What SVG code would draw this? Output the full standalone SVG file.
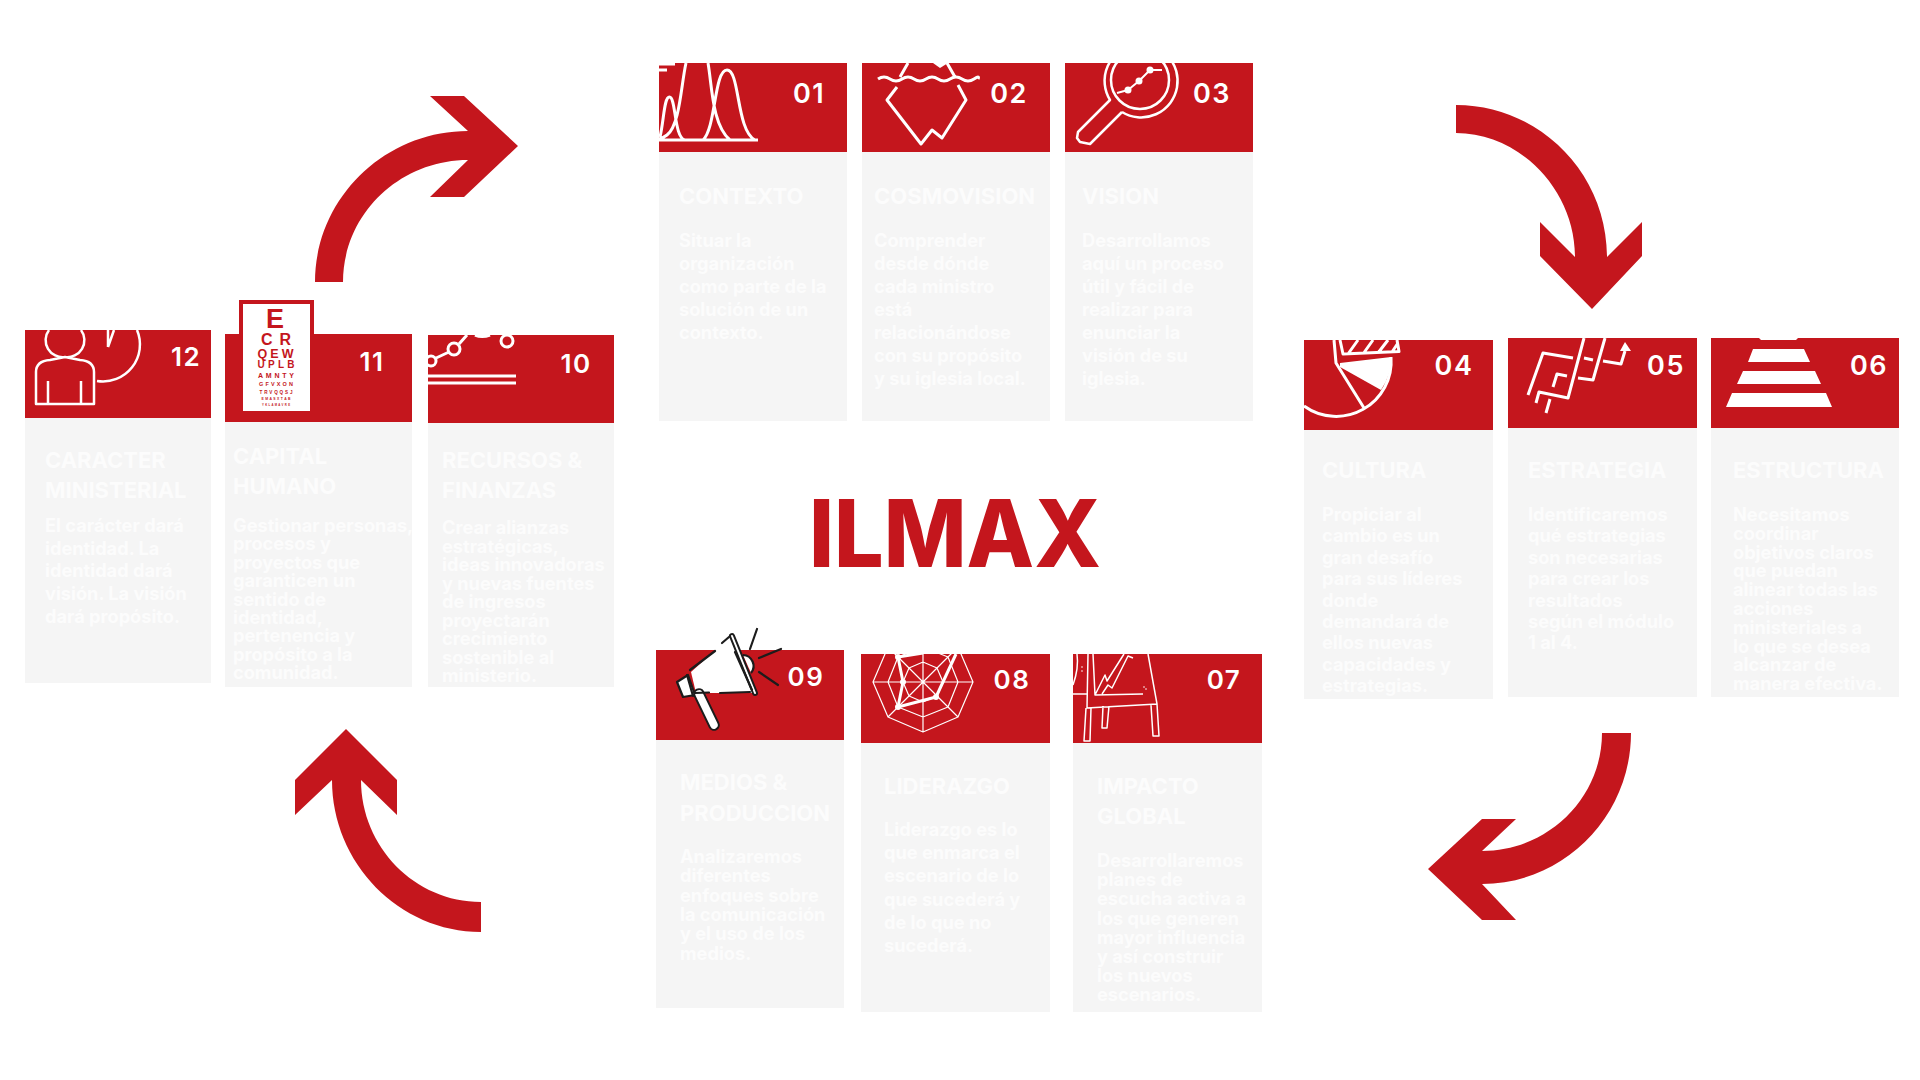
<svg xmlns="http://www.w3.org/2000/svg" width="1920" height="1080" viewBox="0 0 1920 1080">
<style>
text{font-family:"Inter","Noto Sans","Liberation Sans",sans-serif}
.bg{fill:#ffffff}
.h{fill:#c4161d}
.c{fill:#f5f5f5}
.n{fill:#ffffff;font-weight:600;font-size:27px;letter-spacing:1.5px;text-anchor:middle}
.t{fill:#fcfcfc;font-weight:700;font-size:22px}
.b{fill:#fcfcfc;font-weight:700;font-size:18.2px}
.i{fill:none;stroke:#ffffff;stroke-width:3;stroke-linejoin:round;stroke-linecap:butt}
.th{stroke-width:1.5}
.w{fill:#ffffff;stroke:none}
.k{fill:none;stroke:#1c1c1c;stroke-width:2.2;stroke-linecap:round;stroke-linejoin:round}
.a{fill:#c4161d}
.e{fill:#c4161d;font-family:"Liberation Sans",sans-serif;font-weight:700;text-anchor:middle}
.title{fill:#c4161d;font-weight:800;font-size:93px;text-anchor:middle}
</style>
<rect class="bg" width="1920" height="1080"/>

<g id="connectors">
<path class="a" d="M315 282C315 199 384 131 468 131L430 96H464L518 146L464 197H430L468 160C399 160 343 215 343 282Z"/>
<path class="a" d="M1456 105C1539 105 1607 173 1607 257L1642 222V256L1592 309L1540 256V222L1575 257C1575 189 1519 133 1456 133Z"/>
<path class="a" d="M1631 733C1631 816 1564 884 1482 884L1516 920H1482L1428 869L1482 819H1516L1482 851C1548 851 1602 798 1602 733Z"/>
<path class="a" d="M481 932C399 932 332 863 332 780L295 815V780L346 729L397 780V815L361 780C361 847 415 902 481 902Z"/>
</g>

<g id="title"><text class="title" x="955" y="567" textLength="292" lengthAdjust="spacingAndGlyphs">ILMAX</text></g>

<g id="card-01">
<rect class="c" x="659" y="152" width="188" height="269"/><rect class="h" x="659" y="63" width="188" height="89"/>
<path class="i" d="M659 140H758M660 137C664 120 664 97 669.5 97C676 97 674 138 685 140M686 63C681 85 680 125 667 135Q663 138 659 139M708 63C712 85 712 125 730 140M703 140C716 128 714 70 727 70C740 70 736 130 755 140M659 70H667M659 64H675"/>
<text class="n" x="809" y="103">01</text>
<text class="t" x="679" y="204">CONTEXTO</text>
<text class="b" x="679" y="247"><tspan x="679">Situar la</tspan><tspan x="679" dy="23">organización</tspan><tspan x="679" dy="23">como parte de la</tspan><tspan x="679" dy="23">solución de un</tspan><tspan x="679" dy="23">contexto.</tspan></text>
</g>

<g id="card-02">
<rect class="c" x="862" y="152" width="188" height="269"/><rect class="h" x="862" y="63" width="188" height="89"/>
<path class="i" d="M878 79q6 -4 12 0t12 0t12 0t12 0t12 0t12 0t12 0t12 0t4 0M908 63L900 77M947 63L955 77M897 87L887 100L921 144L932 130L942 138L966 100L958 85"/>
<path class="w" d="M933 63L940 68L948 63Z"/>
<text class="n" x="1009" y="103">02</text>
<text class="t" x="874" y="204">COSMOVISION</text>
<text class="b" x="874" y="247"><tspan x="874">Comprender</tspan><tspan x="874" dy="23">desde dónde</tspan><tspan x="874" dy="23">cada ministro</tspan><tspan x="874" dy="23">está</tspan><tspan x="874" dy="23">relacionándose</tspan><tspan x="874" dy="23">con su propósito</tspan><tspan x="874" dy="23">y su iglesia local.</tspan></text>
</g>

<g id="card-03">
<rect class="c" x="1065" y="152" width="188" height="269"/><rect class="h" x="1065" y="63" width="188" height="89"/>
<path class="i" style="stroke-width:2.5" d="M1122 112A36.5 36.5 0 1 0 1110 100L1078 132L1077 138L1080 142L1090 144L1122 112"/>
<circle class="i" style="stroke-width:2.5" cx="1140" cy="80" r="29"/>
<path class="i" style="stroke-width:2" d="M1117 93L1128 90L1139 81L1150 70L1162 70"/>
<circle class="w" cx="1128" cy="90" r="3.5"/><circle class="w" cx="1139" cy="81" r="3.5"/><circle class="w" cx="1150" cy="70" r="3.5"/>
<text class="n" x="1212" y="103">03</text>
<text class="t" x="1082" y="204">VISION</text>
<text class="b" x="1082" y="247"><tspan x="1082">Desarrollamos</tspan><tspan x="1082" dy="23">aquí un proceso</tspan><tspan x="1082" dy="23">útil y fácil de</tspan><tspan x="1082" dy="23">realizar para</tspan><tspan x="1082" dy="23">enunciar la</tspan><tspan x="1082" dy="23">visión de su</tspan><tspan x="1082" dy="23">iglesia.</tspan></text>
</g>

<g id="card-04">
<rect class="c" x="1304" y="430" width="189" height="269"/><rect class="h" x="1304" y="340" width="189" height="90"/>
<path class="w" d="M1340 367L1381 390A55 55 0 0 0 1391 357L1340 363Z"/>
<path class="i" d="M1304 406A55 55 0 0 0 1391 357M1334 340L1336 363L1364 408M1340 340L1343 354L1399 351.5L1397 340M1348 354L1358 340M1363 354L1373 340M1378 353L1388 340M1392 352L1398 343"/>
<text class="n" x="1454" y="375">04</text>
<text class="t" x="1322" y="478">CULTURA</text>
<text class="b" x="1322" y="521"><tspan x="1322">Propiciar al</tspan><tspan x="1322" dy="21.4">cambio es un</tspan><tspan x="1322" dy="21.4">gran desafío</tspan><tspan x="1322" dy="21.4">para sus líderes</tspan><tspan x="1322" dy="21.4">donde</tspan><tspan x="1322" dy="21.4">demandará de</tspan><tspan x="1322" dy="21.4">ellos nuevas</tspan><tspan x="1322" dy="21.4">capacidades y</tspan><tspan x="1322" dy="21.4">estrategias.</tspan></text>
</g>

<g id="card-05">
<rect class="c" x="1508" y="427" width="189" height="270"/><rect class="h" x="1508" y="338" width="189" height="90"/>
<path class="i" d="M1528 395L1543 353L1573 358M1536 403L1539 392L1568 398L1584 338M1553 387L1557 374L1567 376M1546 413L1550 399M1584 358L1593 360M1578 378L1593 380L1605 338M1603 361L1621 364L1625 351"/>
<path class="w" d="M1625 342L1631 351L1620 351Z"/>
<text class="n" x="1666" y="375">05</text>
<text class="t" x="1528" y="478">ESTRATEGIA</text>
<text class="b" x="1528" y="521"><tspan x="1528">Identificaremos</tspan><tspan x="1528" dy="21.4">qué estrategias</tspan><tspan x="1528" dy="21.4">son necesarias</tspan><tspan x="1528" dy="21.4">para crear los</tspan><tspan x="1528" dy="21.4">resultados</tspan><tspan x="1528" dy="21.4">según el módulo</tspan><tspan x="1528" dy="21.4">1 al 4.</tspan></text>
</g>

<g id="card-06">
<rect class="c" x="1711" y="427" width="188" height="270"/><rect class="h" x="1711" y="338" width="188" height="90"/>
<path class="w" d="M1759 338H1798L1796 340H1761ZM1753 349H1804L1810 362H1748ZM1743 371H1815L1821 384H1737ZM1732 393H1826L1832 407H1726Z"/>
<text class="n" x="1869" y="375">06</text>
<text class="t" x="1733" y="478">ESTRUCTURA</text>
<text class="b" x="1733" y="521"><tspan x="1733">Necesitamos</tspan><tspan x="1733" dy="18.8">coordinar</tspan><tspan x="1733" dy="18.8">objetivos claros</tspan><tspan x="1733" dy="18.8">que puedan</tspan><tspan x="1733" dy="18.8">alinear todas las</tspan><tspan x="1733" dy="18.8">acciones</tspan><tspan x="1733" dy="18.8">ministeriales a</tspan><tspan x="1733" dy="18.8">lo que se desea</tspan><tspan x="1733" dy="18.8">alcanzar de</tspan><tspan x="1733" dy="18.8">manera efectiva.</tspan></text>
</g>

<g id="card-07">
<rect class="c" x="1073" y="743" width="189" height="269"/><rect class="h" x="1073" y="654" width="189" height="89"/>
<path class="i th" d="M1088 654L1087 708L1157 704L1148 654M1093 654L1095 695L1143 694M1095 695L1105 675L1107 681L1124 654M1102 694L1108 685L1112 688L1128 656L1133 658M1086 708L1084 741L1090 741L1091 708M1103 706L1102 728L1107 728L1109 706M1151 705L1153 736L1159 736L1157 704M1073 694L1087 694M1077 654Q1079 668 1073 685"/>
<circle class="w" cx="1082" cy="667" r=".8"/><circle class="w" cx="1082" cy="671" r=".8"/><circle class="w" cx="1144" cy="687" r=".8"/><circle class="w" cx="1146" cy="689" r=".8"/>
<text class="n" style="font-size:26px" x="1224" y="689">07</text>
<text class="t" x="1097" y="794"><tspan x="1097">IMPACTO</tspan><tspan x="1097" dy="30">GLOBAL</tspan></text>
<text class="b" x="1097" y="867"><tspan x="1097">Desarrollaremos</tspan><tspan x="1097" dy="19.2">planes de</tspan><tspan x="1097" dy="19.2">escucha activa a</tspan><tspan x="1097" dy="19.2">los que generen</tspan><tspan x="1097" dy="19.2">mayor influencia</tspan><tspan x="1097" dy="19.2">y así construir</tspan><tspan x="1097" dy="19.2">los nuevos</tspan><tspan x="1097" dy="19.2">escenarios.</tspan></text>
</g>

<g id="card-08">
<rect class="c" x="861" y="743" width="189" height="269"/><rect class="h" x="861" y="654" width="189" height="89"/>
<path class="i" style="stroke-width:1.2" d="M923 632L958 647L973 682L958 717L923 732L888 717L873 682L888 647ZM923 647L948 657L958 682L948 707L923 717L898 707L888 682L898 657ZM923 662L937 668L943 682L937 696L923 702L909 696L903 682L909 668ZM923 632V732M873 682H973M888 647L958 717M958 647L888 717"/>
<path class="i" d="M923 653L898 657L903 682L898 707L936 697L956 654"/>
<circle class="w" cx="898" cy="657" r="3"/><circle class="w" cx="903" cy="682" r="3"/><circle class="w" cx="898" cy="707" r="3"/><circle class="w" cx="936" cy="697" r="3"/>
<text class="n" style="font-size:26px" x="1012" y="689">08</text>
<text class="t" x="884" y="794">LIDERAZGO</text>
<text class="b" x="884" y="836"><tspan x="884">Liderazgo es lo</tspan><tspan x="884" dy="23.2">que enmarca el</tspan><tspan x="884" dy="23.2">escenario de lo</tspan><tspan x="884" dy="23.2">que sucederá y</tspan><tspan x="884" dy="23.2">de lo que no</tspan><tspan x="884" dy="23.2">sucederá.</tspan></text>
</g>

<g id="card-09">
<rect class="c" x="656" y="740" width="188" height="268"/><rect class="h" x="656" y="650" width="188" height="90"/>
<path class="w" d="M691 672L731 636L756 693L696 693Z"/>
<path d="M743 655A11 11 0 0 1 751 673" fill="#ffffff" stroke="#1c1c1c" stroke-width="2.2"/>
<path d="M677 682L688 675L695 695L683 697Z" fill="#ffffff" stroke="#1c1c1c" stroke-width="2.2" stroke-linejoin="round"/>
<path class="k" d="M687 675L693 696"/>
<path d="M699 694L714 725" stroke="#1c1c1c" stroke-width="11.5" stroke-linecap="round"/>
<path d="M699 694L714 725" stroke="#ffffff" stroke-width="7.5" stroke-linecap="round"/>
<path d="M732 636L755 693" stroke="#1c1c1c" stroke-width="6" stroke-linecap="round"/>
<path d="M732 636L755 693" stroke="#ffffff" stroke-width="2" stroke-linecap="round"/>
<path class="k" d="M690 670L715 651M722 643L729 637M720 693L750 692M695 693L709 692.5M735 652L752 690M750 649L757 629M759 658L781 649M759 672L778 685"/>
<text class="n" style="font-size:26px" x="806" y="686">09</text>
<text class="t" x="680" y="790"><tspan x="680">MEDIOS &amp;</tspan><tspan x="680" dy="31">PRODUCCION</tspan></text>
<text class="b" x="680" y="863"><tspan x="680">Analizaremos</tspan><tspan x="680" dy="19.3">diferentes</tspan><tspan x="680" dy="19.3">enfoques sobre</tspan><tspan x="680" dy="19.3">la comunicación</tspan><tspan x="680" dy="19.3">y el uso de los</tspan><tspan x="680" dy="19.3">medios.</tspan></text>
</g>

<g id="card-10">
<rect class="c" x="428" y="423" width="186" height="264"/><rect class="h" x="428" y="335" width="186" height="88"/>
<path class="i" d="M428 376H516M428 383H516M435 358.5L449 352M459 344L467 335M475 335Q482 338 490 335"/>
<circle class="i" cx="431" cy="361" r="5"/><circle class="i" cx="454" cy="349" r="6"/><circle class="i" cx="507" cy="341" r="6"/>
<text class="n" style="font-size:26px" x="576" y="373">10</text>
<text class="t" x="442" y="468"><tspan x="442">RECURSOS &amp;</tspan><tspan x="442" dy="30">FINANZAS</tspan></text>
<text class="b" x="442" y="534"><tspan x="442">Crear alianzas</tspan><tspan x="442" dy="18.5">estratégicas,</tspan><tspan x="442" dy="18.5">ideas innovadoras</tspan><tspan x="442" dy="18.5">y nuevas fuentes</tspan><tspan x="442" dy="18.5">de ingresos</tspan><tspan x="442" dy="18.5">proyectarán</tspan><tspan x="442" dy="18.5">crecimiento</tspan><tspan x="442" dy="18.5">sostenible al</tspan><tspan x="442" dy="18.5">ministerio.</tspan></text>
</g>

<g id="card-11">
<rect class="c" x="225" y="422" width="187" height="265"/><rect class="h" x="225" y="334" width="187" height="88"/>
<rect class="h" x="239" y="300" width="75" height="40"/><rect class="w" x="243" y="304" width="67" height="107"/>
<text class="e" font-size="27" x="275" y="328">E</text>
<text class="e" font-size="16" x="276" y="345" textLength="30">C   R</text>
<text class="e" font-size="12.5" x="275.5" y="358" textLength="36">Q E W</text>
<text class="e" font-size="10" x="276" y="368" textLength="37">U P L B</text>
<text class="e" font-size="7" x="276" y="378" textLength="36">A M N T Y</text>
<text class="e" font-size="5.5" x="276" y="386" textLength="34">G F V X O N</text>
<text class="e" font-size="4.6" x="276" y="394" textLength="33">T R V Q Q S J</text>
<text class="e" font-size="3.4" x="276" y="400" textLength="29">E M A S X T A B</text>
<text class="e" font-size="2.8" x="276" y="406" textLength="28">Y K L A M A V R E</text>
<text class="n" style="font-size:26px" x="372" y="371">11</text>
<text class="t" x="233" y="464"><tspan x="233">CAPITAL</tspan><tspan x="233" dy="30">HUMANO</tspan></text>
<text class="b" x="233" y="532"><tspan x="233">Gestionar personas,</tspan><tspan x="233" dy="18.4">procesos y</tspan><tspan x="233" dy="18.4">proyectos que</tspan><tspan x="233" dy="18.4">garanticen un</tspan><tspan x="233" dy="18.4">sentido de</tspan><tspan x="233" dy="18.4">identidad,</tspan><tspan x="233" dy="18.4">pertenencia y</tspan><tspan x="233" dy="18.4">propósito a la</tspan><tspan x="233" dy="18.4">comunidad.</tspan></text>
</g>

<g id="card-12">
<rect class="c" x="25" y="418" width="186" height="265"/><rect class="h" x="25" y="330" width="186" height="88"/>
<path class="i" style="stroke-width:2.5" d="M49 330A17 17 0 0 0 65 357A17 17 0 0 0 81 330M36 404V372Q36 361 50 360L65 357L80 360Q94 361 94 372V404ZM48 381V404M81 381V404M97 381A37 37 0 0 0 137 330M108 347L114 330M108 347V330"/>
<text class="n" style="font-size:26px" x="186" y="366">12</text>
<text class="t" x="45" y="468"><tspan x="45">CARACTER</tspan><tspan x="45" dy="30">MINISTERIAL</tspan></text>
<text class="b" x="45" y="532"><tspan x="45">El carácter dará</tspan><tspan x="45" dy="22.7">identidad. La</tspan><tspan x="45" dy="22.7">identidad dará</tspan><tspan x="45" dy="22.7">visión. La visión</tspan><tspan x="45" dy="22.7">dará propósito.</tspan></text>
</g>
</svg>
